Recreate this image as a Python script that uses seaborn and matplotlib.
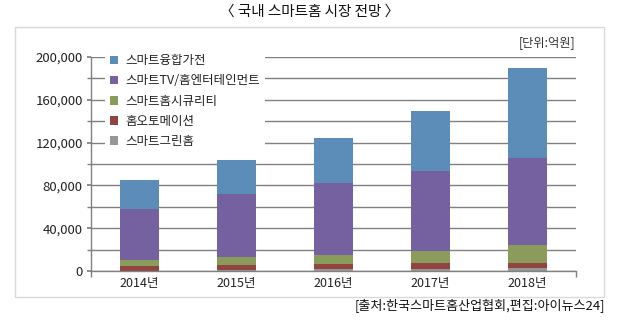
import numpy as np
import pandas as pd
import matplotlib
matplotlib.use("Agg")
import matplotlib.pyplot as plt
from matplotlib.patches import Patch, Rectangle
import seaborn as sns

years = ["2014년", "2015년", "2016년", "2017년", "2018년"]
series = ["스마트융합가전", "스마트TV/홈엔터테인먼트", "스마트홈시큐리티", "홈오토메이션", "스마트그린홈"]
green_home = [400, 500, 1500, 1500, 2400]
home_auto = [3900, 4700, 4700, 5600, 4700]
security = [6200, 7500, 8400, 11200, 16800]
tv_ent = [47700, 58900, 67600, 74800, 82000]
appliance = [26800, 32400, 42400, 56400, 84100]
colors = ["#5b8db8", "#7661a0", "#8a9c5c", "#924440", "#979797"]
yticks = [0, 40000, 80000, 120000, 160000, 200000]
ytick_labels = ["0", "40,000", "80,000", "120,000", "160,000", "200,000"]

sns.set_theme(style="white")
plt.rcParams["font.family"] = ["Noto Sans CJK KR", "DejaVu Sans"]

# stacked from bottom: green_home, home_auto, security, tv_ent, appliance
layers = [green_home, home_auto, security, tv_ent, appliance]
layer_colors = [colors[4], colors[3], colors[2], colors[1], colors[0]]
cum = np.cumsum(np.array(layers), axis=0)

fig = plt.figure(figsize=(6.2, 3.23), dpi=100)
# outer frame
fig.patches.append(Rectangle((15 / 620, 1 - 297 / 323), (604 - 15) / 620, (297 - 27) / 323,
                             transform=fig.transFigure, fill=False, edgecolor="#d9d9d9", lw=1.0))
ax = fig.add_axes([91 / 620, 1 - 271 / 323, (576 - 91) / 620, (271 - 57) / 323])

for i in range(len(layers) - 1, -1, -1):
    df = pd.DataFrame({"year": years, "value": cum[i]})
    sns.barplot(data=df, x="year", y="value", color=layer_colors[i], width=0.4,
                saturation=1, ax=ax, order=years, edgecolor="none", linewidth=0)

ax.set_xlim(-0.5, 4.5)
ax.set_ylim(0, 200000)
ax.set_yticks(yticks)
ax.set_yticklabels(ytick_labels)
ax.set_yticks([20000, 60000, 100000, 140000, 180000], minor=True)
ax.yaxis.grid(True, which="both", color="#808080", lw=1.0)
ax.set_axisbelow(True)
ax.set_xlabel("")
ax.set_ylabel("")
for s in ["top", "right"]:
    ax.spines[s].set_visible(False)
for s in ["left", "bottom"]:
    ax.spines[s].set_color("#808080")
    ax.spines[s].set_linewidth(1.0)
ax.tick_params(axis="y", which="both", direction="out", length=3, color="#808080",
               labelsize=9.5, pad=3, left=True)
ax.tick_params(axis="x", which="major", length=0, labelsize=9, pad=4)
ax.set_xticks([-0.5, 4.5], minor=True)
ax.tick_params(axis="x", which="minor", direction="out", length=4, color="#808080", bottom=True)
for lab in ax.get_xticklabels() + ax.get_yticklabels():
    lab.set_color("#222222")

handles = [Patch(facecolor=c, edgecolor="none") for c in colors]
leg = ax.legend(handles, series, loc="upper left", bbox_to_anchor=(0.028, 1.036),
                frameon=True, facecolor="white", edgecolor="white", framealpha=1,
                fontsize=9, handlelength=0.7, handleheight=0.7, handletextpad=0.6,
                labelspacing=0.57, borderpad=0.4, borderaxespad=0)
leg.get_frame().set_linewidth(0)
for t in leg.get_texts():
    t.set_color("#222222")

fig.text(0.5, 1 - 12 / 323, "〈 국내 스마트홈 시장 전망 〉", ha="center", va="center",
         fontsize=10.5, color="#111111", fontweight="medium")
fig.text(575 / 620, 1 - 43 / 323, "[단위:억원]", ha="right", va="center", fontsize=8.8,
         color="#333333")
fig.text(605 / 620, 1 - 306 / 323, "[출처:한국스마트홈산업협회,편집:아이뉴스24]", ha="right",
         va="center", fontsize=9.4, color="#111111")

fig.savefig("out.png", dpi=100, facecolor="white")
